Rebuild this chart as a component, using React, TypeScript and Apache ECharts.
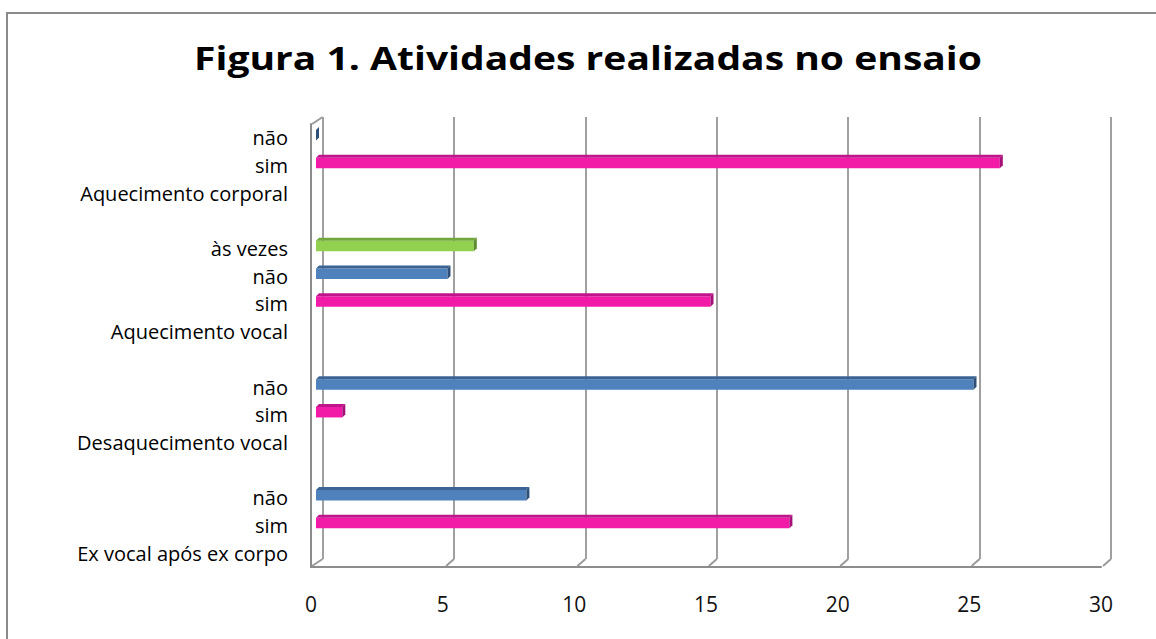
import React, { useEffect, useRef } from "react";
import * as echarts from "echarts";

const titleText = "Figura 1. Atividades realizadas no ensaio";
const rowLabels = [
  "não", "sim", "Aquecimento corporal", "",
  "às vezes", "não", "sim", "Aquecimento vocal", "",
  "não", "sim", "Desaquecimento vocal", "",
  "não", "sim", "Ex vocal após ex corpo",
];
const simValues = [null, 26, null, null, null, null, 15, null, null, null, 1, null, null, null, 18, null];
const naoValues = [0, null, null, null, null, 5, null, null, null, 25, null, null, null, 8, null, null];
const asVezesValues = [null, null, null, null, 6, null, null, null, null, null, null, null, null, null, null, null];
const xTicks = [0, 5, 10, 15, 20, 25, 30];

const FONT = "'Open Sans', sans-serif";

function toData(vals: (number | null)[]) {
  const out: number[][] = [];
  vals.forEach((v, i) => {
    if (v !== null) out.push([v, i]);
  });
  return out;
}

function bar3d(front: string, top: string, side: string) {
  return (params: any, api: any) => {
    const v = api.value(0);
    const c = api.value(1);
    const p0 = api.coord([0, c]);
    const p1 = api.coord([v, c]);
    const h = 10.5;
    const d = 3;
    const y0 = p0[1] - h / 2;
    const y1 = p0[1] + h / 2;
    const x0 = p0[0];
    const x1 = p1[0];
    return {
      type: "group",
      children: [
        { type: "polygon", shape: { points: [[x0, y0], [x1, y0], [x1, y1], [x0, y1]] }, style: { fill: front } },
        { type: "polygon", shape: { points: [[x0, y0], [x0 + d, y0 - d], [x1 + d, y0 - d], [x1, y0]] }, style: { fill: top } },
        { type: "polygon", shape: { points: [[x1, y0], [x1 + d, y0 - d], [x1 + d, y1 - d], [x1, y1]] }, style: { fill: side } },
      ],
    };
  };
}

export default function App() {
  const ref = useRef<HTMLDivElement>(null);
  useEffect(() => {
    if (!ref.current) return;
    const chart = echarts.init(ref.current, null, { renderer: "svg" });
    const W = 1156;
    const backLeft = 322.7;
    const backRight = 1111;
    const backTop = 117;
    const backBottom = 559;
    const frontLeft = 311;
    const frontRight = 1101;
    const frontTop = 124;
    const frontBottom = 567;

    const slants: any[] = xTicks.map((t) => {
      const bx = backLeft + ((backRight - backLeft) * t) / 30;
      const fx = t === 0 ? frontLeft + 1 : bx - 8;
      return {
        type: "line",
        shape: { x1: bx, y1: backBottom, x2: fx, y2: frontBottom - 1 },
        style: { stroke: "#9a9a9a", lineWidth: 2 },
        silent: true,
      };
    });
    slants.push({
      type: "line",
      shape: { x1: frontLeft + 1, y1: frontTop, x2: backLeft, y2: backTop },
      style: { stroke: "#9a9a9a", lineWidth: 2 },
      silent: true,
    });

    chart.setOption({
      animation: false,
      backgroundColor: "#ffffff",
      grid: [
        { left: 316, right: W - 1105, top: 121.5, bottom: 639 - 564.5 },
        { left: frontLeft, right: W - frontRight, top: frontTop, bottom: 639 - frontBottom },
        { left: backLeft, right: W - backRight, top: backTop, bottom: 639 - backBottom },
      ],
      xAxis: [
        { type: "value", gridIndex: 0, min: 0, max: 30, interval: 5, show: false },
        {
          type: "value", gridIndex: 1, min: 0, max: 30, interval: 5,
          axisLine: { show: true, lineStyle: { color: "#8c8c8c", width: 2 } },
          axisTick: { show: false },
          splitLine: { show: false },
          axisLabel: { fontFamily: FONT, fontSize: 21, color: "#111", margin: 26 },
        },
        {
          type: "value", gridIndex: 2, min: 0, max: 30, interval: 5,
          axisLine: { show: false }, axisTick: { show: false }, axisLabel: { show: false },
          splitLine: { show: true, lineStyle: { color: "#a0a0a0", width: 2 } },
        },
      ],
      yAxis: [
        { type: "category", gridIndex: 0, data: rowLabels, inverse: true, show: false },
        {
          type: "category", gridIndex: 1, data: rowLabels, inverse: true,
          axisLine: { show: true, lineStyle: { color: "#8c8c8c", width: 2 } },
          axisTick: { show: false },
          splitLine: { show: false },
          axisLabel: { fontFamily: FONT, fontSize: 20, lineHeight: 22, color: "#000", margin: 23, interval: 0 },
        },
        { type: "value", gridIndex: 2, show: false },
      ],
      series: [
        {
          name: "sim", type: "custom", xAxisIndex: 0, yAxisIndex: 0,
          renderItem: bar3d("#f21ba8", "#c0148a", "#a51078"),
          encode: { x: 0, y: 1 }, data: toData(simValues),
        },
        {
          name: "não", type: "custom", xAxisIndex: 0, yAxisIndex: 0,
          renderItem: bar3d("#4f81bd", "#3b6394", "#2e4f78"),
          encode: { x: 0, y: 1 }, data: toData(naoValues),
        },
        {
          name: "às vezes", type: "custom", xAxisIndex: 0, yAxisIndex: 0,
          renderItem: bar3d("#92d050", "#72a83c", "#5e8c30"),
          encode: { x: 0, y: 1 }, data: toData(asVezesValues),
        },
      ],
      graphic: [
        {
          type: "rect",
          shape: { x: 7, y: 13, width: 1170, height: 650 },
          style: { fill: "none", stroke: "#8a8a8a", lineWidth: 2 },
          silent: true,
        },
        {
          type: "text",
          x: 588,
          y: 57,
          scaleX: 1.22,
          style: {
            text: titleText,
            fontFamily: FONT,
            fontSize: 32,
            fontWeight: "bold",
            fill: "#000",
            align: "center",
            verticalAlign: "middle",
          },
          silent: true,
        },
        ...slants,
      ],
    });
    return () => chart.dispose();
  }, []);
  return (
    <div
      ref={ref}
      style={{ position: "absolute", left: 0, top: 0, width: 1156, height: 639 }}
    />
  );
}
